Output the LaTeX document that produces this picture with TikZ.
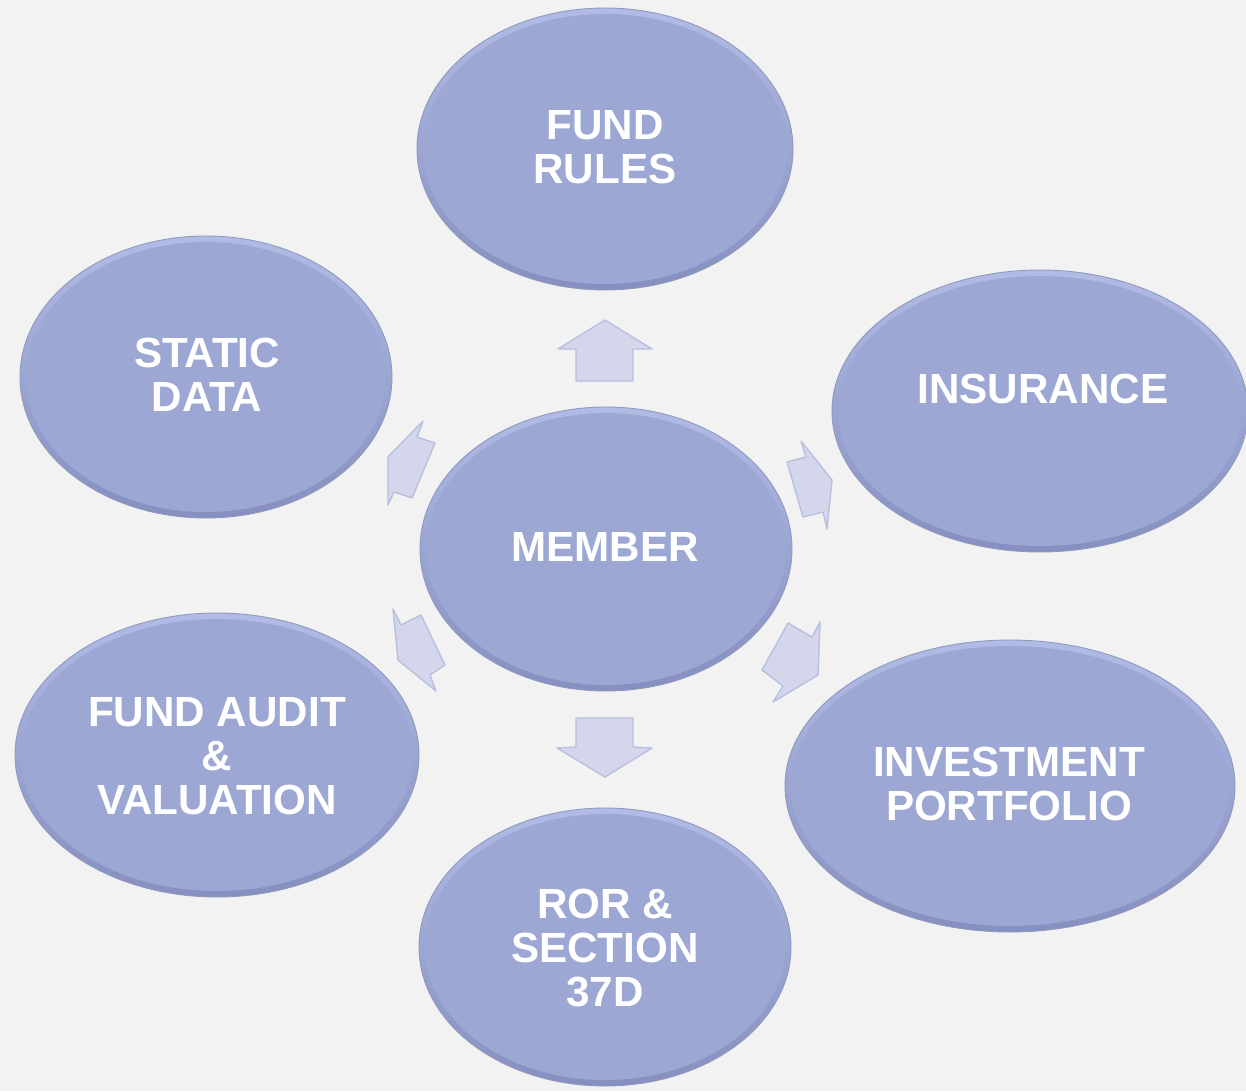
\documentclass[tikz,border=0pt]{standalone}
\usepackage{fontspec}
\setmainfont{Liberation Sans}
\usetikzlibrary{shapes.geometric}

\definecolor{bg}{HTML}{F2F2F2}
\definecolor{bubblefill}{HTML}{9CA8D3}
\definecolor{bubbletop}{HTML}{B0BBE6}
\definecolor{bubblebot}{HTML}{8590C0}
\definecolor{bubbleline}{HTML}{9098BC}
\definecolor{arrowfill}{HTML}{D4D7EB}
\definecolor{arrowline}{HTML}{B9BFDE}

\tikzset{
  bubble/.style={ellipse, draw=bubbleline, line width=0.5pt,
    top color=bubbletop, bottom color=bubblebot, inner sep=0pt},
  core/.style={ellipse, fill=bubblefill, inner sep=0pt},
  caption/.style={text=white, font=\bfseries\fontsize{24}{25}\selectfont,
    align=center, inner sep=0pt},
  blockarrow/.style={fill=arrowfill, draw=arrowline, line width=0.8pt,
    line join=round},
}

% one bubble: name, centre, half-axes (px)
\newcommand\bubbleat[5]{%
  \node[bubble, minimum width={2*#4*0.02cm}, minimum height={2*#5*0.02cm}]
    (#1) at (#2,#3) {};
  \node[core, minimum width={(2*#4-12)*0.02cm}, minimum height={(2*#5-12)*0.02cm}]
    (#1-in) at (#2,#3) {};
}

\begin{document}
\begin{tikzpicture}[x=0.02cm, y=-0.02cm]
  \fill[bg] (0,0) rectangle (1246,1091);
  \useasboundingbox (0,0) rectangle (1246,1091);

  % bubbles
  \bubbleat{rules}{605}{149}{188}{141}
  \bubbleat{static}{206}{377}{186}{141}
  \bubbleat{ins}{1040}{411}{208}{141}
  \bubbleat{member}{606}{549}{186}{142}
  \bubbleat{invest}{1010}{786}{225}{146}
  \bubbleat{audit}{217}{755}{202}{142}
  \bubbleat{ror}{605}{947}{186}{139}

  % captions
  \node[caption] (t-rules)  at (605,147) {FUND\\RULES};
  \node[caption] (t-static) at (207,375) {STATIC\\DATA};
  \node[caption] (t-ins)    at (1043,389) {INSURANCE};
  \node[caption] (t-member) at (605,547) {MEMBER};
  \node[caption] (t-invest) at (1009,784) {INVESTMENT\\PORTFOLIO};
  \node[caption] (t-audit)  at (217,756) {FUND AUDIT\\\&\\VALUATION};
  \node[caption] (t-ror)    at (605,948) {ROR \&\\SECTION\\37D};

  % block arrows around the member
  \draw[blockarrow] (605,320) -- (652,349) -- (633,349) -- (633,381)
    -- (576,381) -- (576,349) -- (558,349) -- cycle;
  \draw[blockarrow] (576,718) -- (633,718) -- (633,747) -- (652,748)
    -- (605,777) -- (557,748) -- (576,747) -- cycle;
  \draw[blockarrow] (787,462) -- (806,457) -- (801,441) -- (832,480)
    -- (827,529) -- (823,512) -- (803,517) -- cycle;
  \draw[blockarrow] (788,623) -- (812,637) -- (820,622) -- (818,675)
    -- (773,702) -- (783,686) -- (762,670) -- cycle;
  \draw[blockarrow] (393,609) -- (401,625) -- (421,615) -- (445,665)
    -- (430,675) -- (436,691) -- (398,660) -- cycle;
  \draw[blockarrow] (423,421) -- (417,437) -- (435,443) -- (412,498)
    -- (394,492) -- (388,505) -- (388,457) -- cycle;
\end{tikzpicture}
\end{document}
